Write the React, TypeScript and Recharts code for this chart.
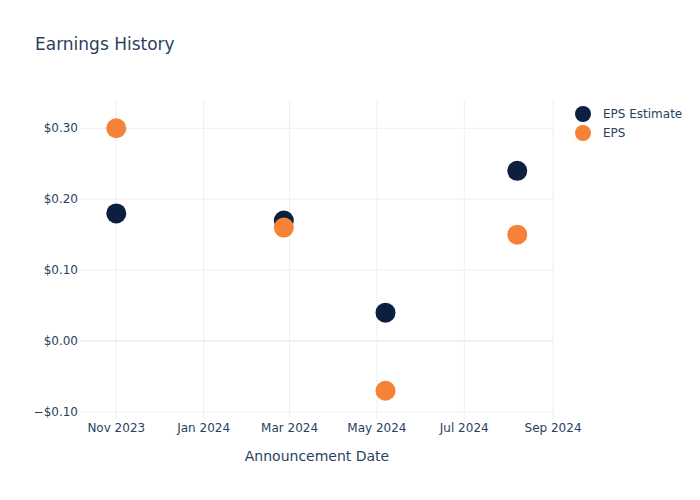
import React from 'react';
import { ScatterChart, Scatter, XAxis, YAxis, CartesianGrid, ReferenceLine, Legend } from 'recharts';

const dates = ['2023-11-01', '2024-02-26', '2024-05-07', '2024-08-07'];
const epsEstimate = [0.18, 0.17, 0.04, 0.24];
const epsActual = [0.3, 0.16, -0.07, 0.15];
const monthTicks = ['2023-11-01', '2024-01-01', '2024-03-01', '2024-05-01', '2024-07-01', '2024-09-01'];
const yTicks = [-0.1, 0, 0.1, 0.2, 0.3];
const monthNames = ['Jan', 'Feb', 'Mar', 'Apr', 'May', 'Jun', 'Jul', 'Aug', 'Sep', 'Oct', 'Nov', 'Dec'];

const TEXT = '#2a3f5f';
const GRID = '#ebf0f8';
const NAVY = '#0c1f40';
const ORANGE = '#f58236';
const FONT = '"DejaVu Sans", sans-serif';

const estimateData = dates.map((d, i) => ({ x: Date.parse(d), y: epsEstimate[i] }));
const actualData = dates.map((d, i) => ({ x: Date.parse(d), y: epsActual[i] }));

const fmtMonth = (v: number) => {
  const d = new Date(v);
  return `${monthNames[d.getUTCMonth()]} ${d.getUTCFullYear()}`;
};

const fmtDollar = (v: number) => {
  const s = Math.abs(v).toFixed(2);
  return v < -1e-9 ? `\u2212$${s}` : `$${s}`;
};

const XTick = ({ x, y, payload }: any) => (
  <text x={x} y={y + 8} dy="0.35em" textAnchor="middle" fill={TEXT} fontSize={12} fontFamily={FONT}>
    {fmtMonth(payload.value)}
  </text>
);

const YTick = ({ x, y, payload }: any) => (
  <text x={x - 2} y={y} dy="0.35em" textAnchor="end" fill={TEXT} fontSize={12} fontFamily={FONT}>
    {fmtDollar(payload.value)}
  </text>
);

const dot = (color: string) => (props: any) => (
  <circle cx={props.cx} cy={props.cy} r={10} fill={color} />
);

const LegendBox = () => (
  <svg width={120} height={40}>
    <circle cx={9} cy={10} r={8} fill={NAVY} />
    <text x={29} y={10} dy="0.35em" fill={TEXT} fontSize={12} fontFamily={FONT}>EPS Estimate</text>
    <circle cx={9} cy={29} r={8} fill={ORANGE} />
    <text x={29} y={29} dy="0.35em" fill={TEXT} fontSize={12} fontFamily={FONT}>EPS</text>
  </svg>
);

export default function App() {
  return (
    <div style={{ position: 'absolute', left: 0, top: 0, width: 700, height: 500, background: '#fff', fontFamily: FONT }}>
      <ScatterChart width={700} height={500} margin={{ top: 100, right: 146, bottom: 0, left: 0 }}>
        <CartesianGrid stroke={GRID} strokeWidth={1} syncWithTicks />
        <XAxis
          dataKey="x"
          type="number"
          domain={[Date.parse('2023-10-06T16:00:00Z'), Date.parse('2024-09-01T16:00:00Z')]}
          ticks={monthTicks.map((m) => Date.parse(m))}
          interval={0}
          allowDataOverflow
          height={80}
          axisLine={false}
          tickLine={false}
          tickSize={0}
          tickMargin={0}
          tick={<XTick />}
        />
        <YAxis
          dataKey="y"
          type="number"
          domain={[-0.1113, 0.3399]}
          ticks={yTicks}
          interval={0}
          allowDataOverflow
          width={80}
          axisLine={false}
          tickLine={false}
          tickSize={0}
          tickMargin={0}
          tick={<YTick />}
        />
        <ReferenceLine y={0} stroke={GRID} strokeWidth={2} />
        <Scatter name="EPS Estimate" data={estimateData} fill={NAVY} shape={dot(NAVY)} isAnimationActive={false} />
        <Scatter name="EPS" data={actualData} fill={ORANGE} shape={dot(ORANGE)} isAnimationActive={false} />
        <Legend
          layout="vertical"
          align="center"
          verticalAlign="middle"
          content={() => <LegendBox />}
          wrapperStyle={{ left: 574, top: 104, width: 120, height: 40 }}
        />
      </ScatterChart>
      <svg width={700} height={500} style={{ position: 'absolute', left: 0, top: 0, pointerEvents: 'none' }}>
        <text x={35} y={44} dy="0.35em" fill={TEXT} fontSize={17} fontFamily={FONT}>Earnings History</text>
        <text x={317} y={456} dy="0.35em" textAnchor="middle" fill={TEXT} fontSize={14} fontFamily={FONT}>Announcement Date</text>
      </svg>
    </div>
  );
}
